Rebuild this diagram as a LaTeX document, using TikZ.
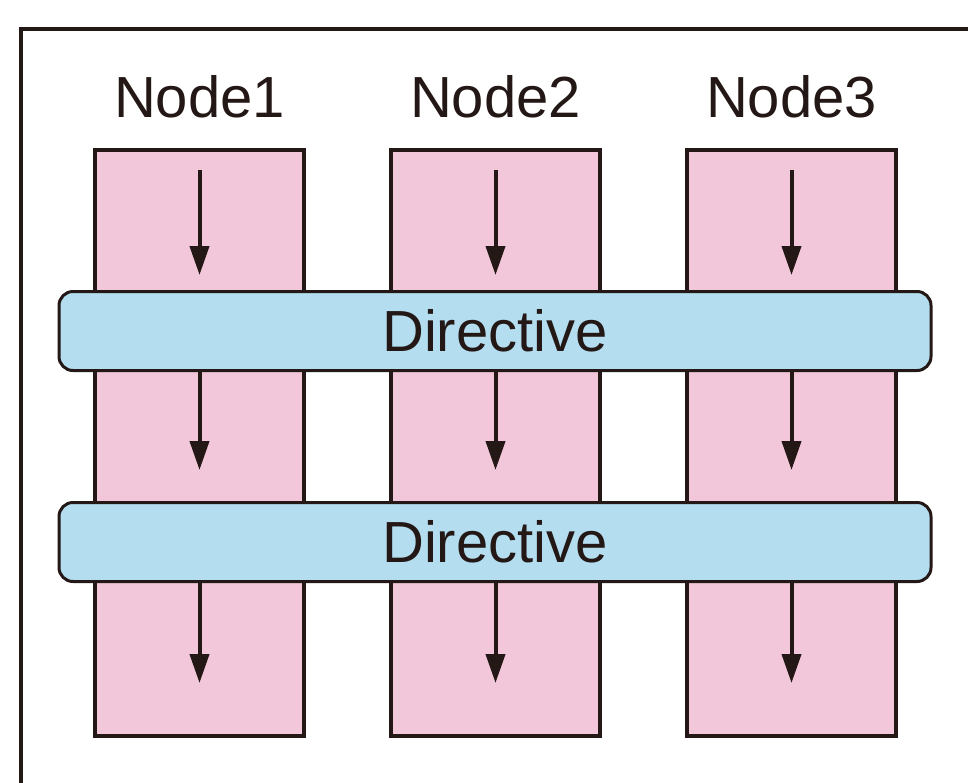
\documentclass[tikz,border=0pt]{standalone}
\usepackage{fontspec}
\setmainfont{Liberation Sans}
\usetikzlibrary{positioning, calc, arrows.meta}

\definecolor{ink}{RGB}{35,24,21}
\definecolor{pinkfill}{RGB}{242,199,217}
\definecolor{bluefill}{RGB}{180,221,239}

\begin{document}
\begin{tikzpicture}[x=1pt, y=-1pt, node distance=83pt,
  font=\fontsize{58}{60}\selectfont, text=ink,
  column/.style={draw=ink, fill=pinkfill, line width=4pt, inner sep=0pt,
    minimum width=209pt, minimum height=586pt},
  band/.style={draw=ink, fill=bluefill, line width=3pt, inner sep=0pt,
    rounded corners=14pt, minimum width=872pt, minimum height=79pt},
  flow/.style={draw=ink, line width=4pt, -{Triangle[length=29pt, width=19pt]}}]
  \clip (0,0) rectangle (968,782);
  \draw[ink, line width=4pt] (21,29) rectangle (1000,820);

  \node[column]                  (col1) at (199.5,443) {};
  \node[column, right=of col1]   (col2) {};
  \node[column, right=of col2]   (col3) {};

  \node[above=31pt of col1.north, anchor=base, inner sep=0pt] (name1) {Node1};
  \node[above=31pt of col2.north, anchor=base, inner sep=0pt] (name2) {Node2};
  \node[above=31pt of col3.north, anchor=base, inner sep=0pt] (name3) {Node3};

  \node[band]                    (dir1) at (495,331) {Directive};
  \node[band, below=129pt of dir1] (dir2) {Directive};

  \coordinate (top1) at ($(col1.north)+(0,22)$);
  \coordinate (top2) at ($(col2.north)+(0,22)$);
  \coordinate (top3) at ($(col3.north)+(0,22)$);
  \coordinate (tip1) at ($(dir1.north -| col1)+(0,-15)$);
  \coordinate (tip2) at ($(dir1.north -| col2)+(0,-15)$);
  \coordinate (tip3) at ($(dir1.north -| col3)+(0,-15)$);

  \draw[flow] (top1) -- (tip1);
  \draw[flow] (top2) -- (tip2);
  \draw[flow] (top3) -- (tip3);
  \draw[flow] (dir1.south -| col1) -- ($(dir1.south -| col1)+(0,98)$);
  \draw[flow] (dir1.south -| col2) -- ($(dir1.south -| col2)+(0,98)$);
  \draw[flow] (dir1.south -| col3) -- ($(dir1.south -| col3)+(0,98)$);
  \draw[flow] (dir2.south -| col1) -- ($(dir2.south -| col1)+(0,100)$);
  \draw[flow] (dir2.south -| col2) -- ($(dir2.south -| col2)+(0,100)$);
  \draw[flow] (dir2.south -| col3) -- ($(dir2.south -| col3)+(0,100)$);
\end{tikzpicture}
\end{document}
